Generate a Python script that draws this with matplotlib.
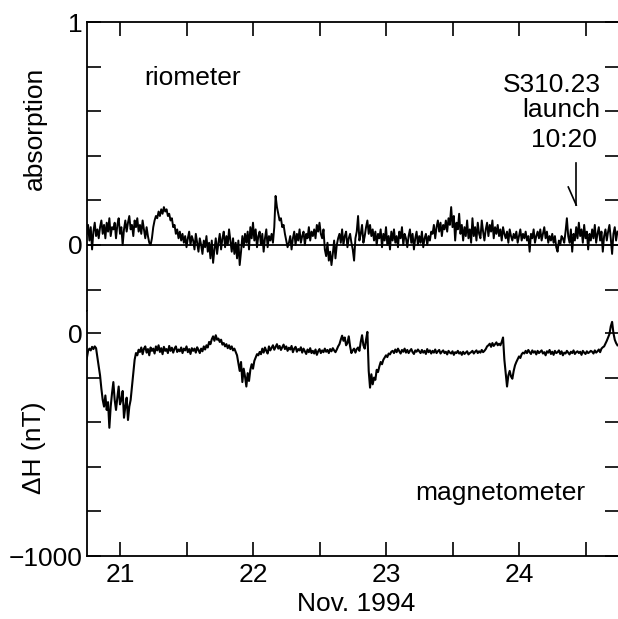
import numpy as np
import matplotlib.pyplot as plt

plt.rcParams['font.family'] = ['Liberation Sans', 'DejaVu Sans']

# riometer absorption (x100), one value every 0.01 day from 20.75
absorption_pct = [
    5, 9, 2, 8, -2, 6, 10, 4, 7, 3,
    8, 11, 5, 9, 3, 10, 6, 12, 4, 8,
    7, 10, 3, 9, 12, 5, 8, 0, 7, 11,
    6, 10, 13, 7, 9, 4, 11, 8, 12, 6,
    9, 5, 11, 7, 3, 8, 4, 1, 0, 3,
    8, 11, 13, 12, 15, 13, 16, 14, 17, 15,
    16, 13, 14, 11, 12, 8, 9, 5, 7, 3,
    6, 2, 5, 1, 4, -1, 3, 6, 0, 4,
    2, -2, 5, 1, -3, 3, 0, -4, 2, -1,
    4, -3, 1, -6, 2, -8, -2, 3, -4, 1,
    5, -2, 3, 6, -1, 4, 0, 7, 2, -3,
    3, -4, 1, -6, 2, -9, -3, 4, -1, 5,
    1, 6, -2, 8, 3, 10, 2, 7, -1, 4,
    6, 0, 5, -3, 3, 7, -1, 4, 2, 5,
    1, 8, 22, 17, 14, 11, 12, 8, 9, 5,
    2, -1, 1, 4, -2, 3, 6, 0, 5, 2,
    7, 1, 4, 6, 0, 5, 3, 8, 2, 6,
    4, 7, 3, 9, 6, 10, 5, 3, 7, -2,
    -5, 1, -7, -3, -9, -4, 2, -6, 0, 3,
    5, 1, 7, 0, 4, 6, -1, 3, 5, 1,
    -2, -7, 3, 6, 13, 2, 5, 9, 1, 4,
    8, 11, 5, 9, 4, 7, 2, 6, 0, 5,
    3, 7, -1, 5, 2, 8, 0, 4, -2, 6,
    2, 7, 1, 4, -1, 6, 3, 8, 0, 5,
    3, -1, 4, 7, 1, 5, -2, 3, 6, 0,
    4, 1, 6, -1, 3, 5, 0, 4, 2, 6,
    5, 9, 3, 8, 11, 6, 10, 4, 9, 7,
    11, 6, 12, 9, 17, 8, 13, 2, 10, 7,
    14, 5, 9, 2, 8, 4, 11, 3, 7, 1,
    12, 4, 8, 2, 10, 5, 3, 11, 6, 2,
    7, 10, 4, 9, 6, 11, 3, 8, 5, 9,
    4, 7, 2, 8, 5, 3, 6, 1, 7, 4,
    2, 5, 3, 6, 1, 4, 7, 2, 5, 3,
    6, 2, 4, -3, 5, 3, 7, 1, 4, 6,
    3, 7, 2, 5, 8, 3, 6, 1, 4, 2,
    5, 1, 4, -1, -3, 2, 0, 4, 3, 1,
    6, 12, 4, 1, 7, -3, 5, 2, 8, 3,
    10, 4, 7, 1, 9, 3, 6, -2, 5, 2,
    7, 3, 9, 1, 5, 8, 2, 6, -3, 4,
    7, 2, 6, 9, 3, -4, 5, 8, 2, 6,
]

# magnetometer Delta H (nT), same sampling
delta_h = [
    -115, -80, -70, -78, -62, -72, -60, -68, -110, -150,
    -190, -250, -300, -330, -280, -345, -310, -425, -330, -270,
    -220, -300, -345, -290, -240, -320, -300, -260, -380, -330,
    -290, -390, -330, -300, -240, -180, -120, -90, -100, -75,
    -85, -65, -95, -70, -60, -88, -72, -100, -65, -80,
    -70, -92, -60, -78, -55, -85, -68, -95, -62, -80,
    -72, -90, -58, -80, -66, -88, -70, -60, -85, -74,
    -82, -65, -90, -70, -78, -60, -86, -72, -94, -68,
    -80, -70, -88, -64, -76, -90, -70, -82, -60, -74,
    -55, -65, -40, -50, -28, -15, -35, -10, -30, -25,
    -40, -30, -52, -45, -60, -50, -68, -55, -72, -60,
    -78, -70, -85, -100, -135, -170, -130, -220, -160, -195,
    -240, -180, -215, -165, -140, -160, -125, -110, -95, -100,
    -85, -95, -70, -88, -65, -80, -92, -60, -78, -66,
    -55, -75, -62, -50, -70, -58, -76, -64, -52, -72,
    -60, -80, -66, -74, -58, -86, -70, -62, -84, -72,
    -78, -64, -88, -70, -82, -94, -74, -86, -68, -90,
    -80, -92, -74, -98, -82, -72, -90, -78, -86, -70,
    -84, -76, -90, -72, -82, -68, -78, -86, -74, -60,
    -50, -30, -12, -35, -20, -55, -45, -15, -60, -90,
    -78, -70, -88, -72, -65, -80, -40, -10, -55, -70,
    -30, 5, -170, -245, -185, -230, -200, -210, -165, -175,
    -150, -130, -140, -120, -110, -100, -108, -92, -96, -84,
    -80, -90, -74, -86, -70, -82, -92, -76, -84, -70,
    -88, -76, -90, -80, -72, -86, -94, -78, -84, -74,
    -82, -90, -76, -88, -80, -94, -72, -86, -78, -92,
    -80, -88, -74, -90, -82, -76, -92, -84, -78, -90,
    -84, -96, -80, -88, -92, -82, -98, -86, -90, -80,
    -92, -86, -98, -84, -94, -88, -82, -96, -90, -86,
    -80, -92, -84, -78, -90, -82, -88, -76, -86, -80,
    -72, -60, -55, -48, -62, -45, -58, -50, -42, -55,
    -48, -55, -40, -20, -120, -180, -240, -190, -170, -195,
    -205, -170, -145, -130, -118, -105, -112, -95, -88, -92,
    -80, -90, -76, -86, -94, -78, -88, -82, -96, -80,
    -90, -84, -78, -92, -86, -100, -82, -88, -76, -94,
    -84, -98, -80, -90, -86, -78, -94, -82, -100, -88,
    -92, -80, -88, -96, -84, -90, -78, -94, -86, -82,
    -90, -84, -98, -80, -88, -94, -82, -90, -86, -80,
    -84, -92, -78, -88, -82, -74, -86, -70, -64, -60,
    -48, -35, -20, -5, 30, 50, 0, -30, -45, -55,
]

t0 = 20.75
dt = 0.01
days = t0 + dt * np.arange(len(delta_h))
absorption = np.array(absorption_pct) / 100.0

launch_day = 24 + (10 + 20 / 60) / 24   # 10:20 UT on 24 Nov

major_days = [21, 22, 23, 24]
minor_days = [21.5, 22.5, 23.5, 24.5]

W, H = 618, 619
fig = plt.figure(figsize=(W / 100, H / 100), dpi=100)


def box(x0, y0, x1, y1):
    # pixel box (top-left origin) -> figure fraction
    return [x0 / W, 1 - y1 / H, (x1 - x0) / W, (y1 - y0) / H]


ax1 = fig.add_axes(box(86.75, 22, 618.75, 311))
ax2 = fig.add_axes(box(86.75, 311, 618.75, 556))

fs = 19
for ax in (ax1, ax2):
    ax.set_xlim(20.75, 24.75)
    for s in ax.spines.values():
        s.set_linewidth(1.3)
    ax.tick_params(which='both', direction='in', length=10, width=1.2,
                   right=True, labelsize=fs)
    ax.tick_params(axis='y', pad=3)
    ax.tick_params(axis='x', pad=5)
    ax.set_xticks(major_days)
    ax.set_xticks(minor_days, minor=True)

# top panel: riometer
ax1.plot(days, absorption, color='black', lw=1.4)
ax1.axhline(0, color='black', lw=1.3)
ax1.set_ylim(-0.296, 1.0)
ax1.set_yticks([-0.2, 0, 0.2, 0.4, 0.6, 0.8, 1.0])
ax1.set_yticklabels(['', '0', '', '', '', '', '1'])
ax1.spines['bottom'].set_visible(False)
ax1.tick_params(which='both', top=True, bottom=False, labelbottom=False)
ax1.text(21.186, 0.717, 'riometer', fontsize=fs, ha='left', va='baseline')

ax1.text(24.25, (245 - 92) / 223, 'S310.23', fontsize=fs, ha='center', va='baseline')
ax1.text(24.315, (245 - 117) / 223, 'launch', fontsize=fs, ha='center', va='baseline')
ax1.text(24.335, (245 - 147) / 223, '10:20', fontsize=fs, ha='center', va='baseline')
ax1.plot([launch_day, launch_day], [0.368, 0.179], color='black', lw=1.2)
ax1.plot([launch_day - 0.06, launch_day], [0.26, 0.179], color='black', lw=1.2)

# bottom panel: magnetometer
ax2.plot(days, delta_h, color='black', lw=1.5)
ax2.set_ylim(-1000, 98.7)
ax2.set_yticks([-1000, -800, -600, -400, -200, 0])
ax2.set_yticklabels(['\u22121000', '', '', '', '', '0'])
ax2.set_xticklabels([str(d) for d in major_days])
ax2.spines['top'].set_visible(False)
ax2.tick_params(which='both', top=False)
ax2.text(23.216, -749, 'magnetometer', fontsize=fs, ha='left', va='baseline')

fig.text(35 / W, 1 - 128 / H, 'absorption', fontsize=fs, rotation=90,
         ha='center', va='center')
fig.text(34 / W, 1 - 448 / H, '\u0394H (nT)', fontsize=fs, rotation=90,
         ha='center', va='center')
fig.text(356 / W, 1 - 604 / H, 'Nov. 1994', fontsize=fs, ha='center', va='center')

fig.savefig('out.png', dpi=100)
